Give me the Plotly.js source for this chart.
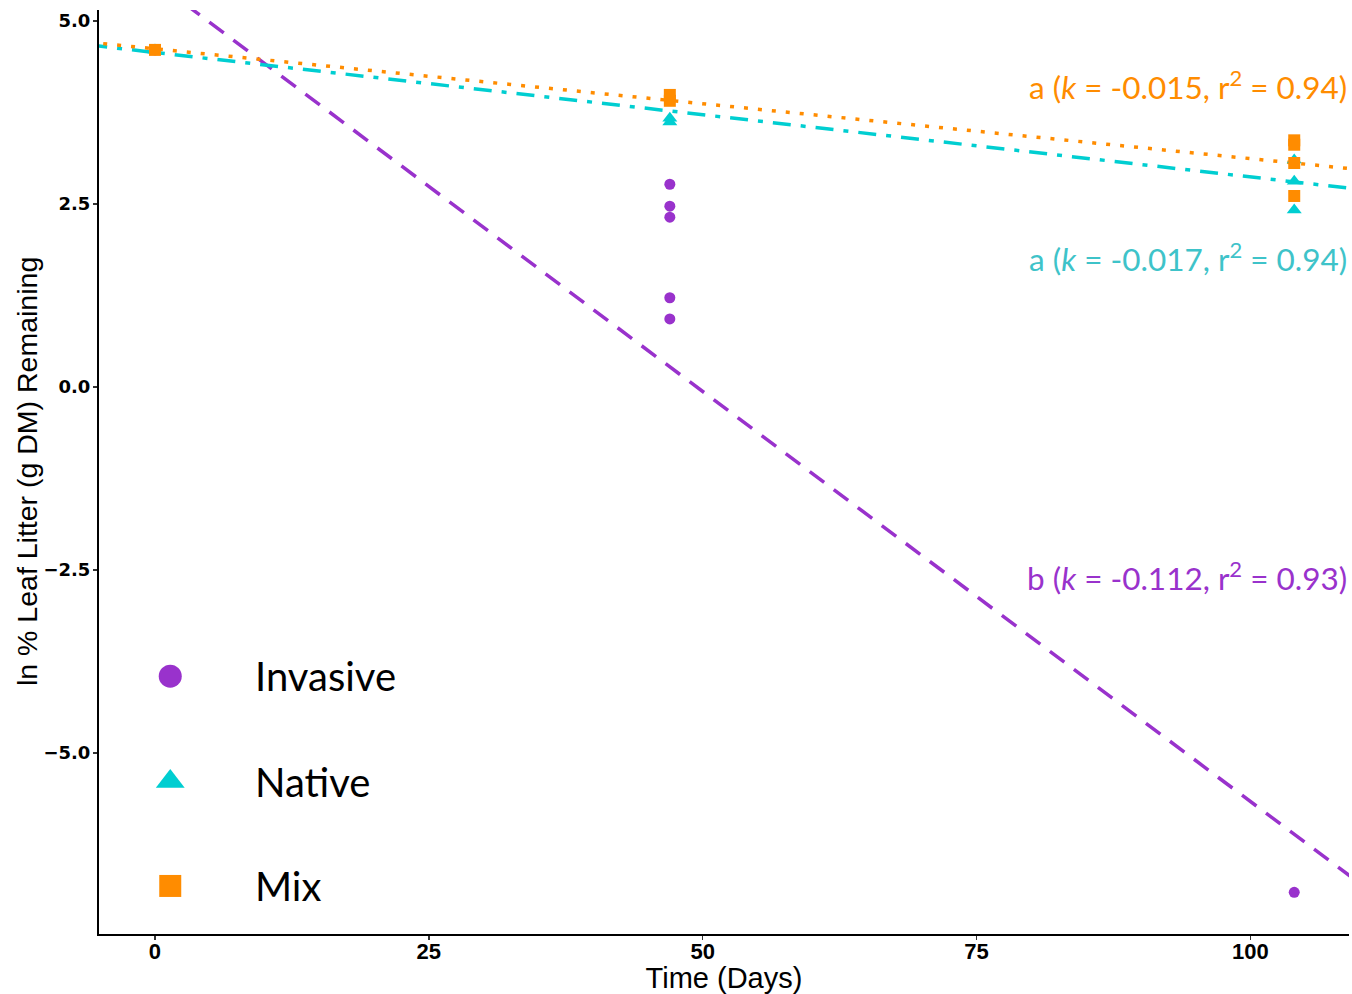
<!DOCTYPE html>
<html><head><meta charset="utf-8">
<script src="https://cdn.plot.ly/plotly-3.0.1.min.js"></script>
<style>body{margin:0;background:#fff}#chart{width:1352px;height:994px}</style>
</head><body><div id="chart"></div>
<script>
// Observed data (ln % leaf litter remaining)
const invasiveDays = [0, 47, 47, 47, 47, 47, 104];
const invasiveVals = [4.605, 2.77, 2.47, 2.32, 1.22, 0.93, -6.90];
const nativeDays = [0, 47, 47, 104, 104, 104];
const nativeVals = [4.605, 3.67, 3.62, 3.10, 2.81, 2.42];
const mixDays = [0, 47, 47, 104, 104, 104, 104];
const mixVals = [4.605, 3.99, 3.91, 3.37, 3.31, 3.06, 2.61];

// Fitted regression lines (intercept, slope k)
const groups = ["Invasive", "Native", "Mix"];
const intercepts = [5.54, 4.57, 4.62];
const slopes = [-0.112, -0.017, -0.015];
const fitLabels = [
  "b (<i>k</i> = -0.112, r<sup>2</sup> = 0.93)",
  "a (<i>k</i> = -0.017, r<sup>2</sup> = 0.94)",
  "a (<i>k</i> = -0.015, r<sup>2</sup> = 0.94)"
];
const labelY = [-2.58, 1.78, 4.12];
const yTitle = "ln % Leaf Litter (g DM) Remaining";
const xTitle = "Time (Days)";

const colors = ["#9932CC", "#00CED1", "#FF8C00"];
const textColors = ["#9932CC", "#3EC3C9", "#FF8C00"];
const symbols = ["circle", "triangle-up", "square"];
const dashes = ["18px,12px", "18px,10px,5px,10px", "4px,10px"];

const xRange = [-5.11, 109.0];
const yRange = [-7.47, 5.15];
const fitX = [-6, 110];

const traces = [];
groups.forEach((g, i) => {
  traces.push({
    x: fitX, y: fitX.map(d => intercepts[i] + slopes[i] * d),
    mode: "lines", line: {color: colors[i], width: 3.5, dash: dashes[i]},
    showlegend: false, hoverinfo: "skip"
  });
});
const ptsX = [invasiveDays, nativeDays, mixDays];
const ptsY = [invasiveVals, nativeVals, mixVals];
const sizes = [11, 13, 12];
groups.forEach((g, i) => {
  traces.push({
    x: ptsX[i], y: ptsY[i], mode: "markers", name: g,
    marker: {color: colors[i], symbol: symbols[i], size: sizes[i]},
    showlegend: false
  });
});
// custom legend on overlay axes
const legY = [0.279, 0.165, 0.052];
const legSizes = [23, 25, 22];
groups.forEach((g, i) => {
  traces.push({
    x: [0.057], y: [legY[i]], xaxis: "x2", yaxis: "y2", mode: "markers",
    marker: {color: colors[i], symbol: symbols[i], size: legSizes[i]},
    showlegend: false, hoverinfo: "skip"
  });
});

const annotations = [];
groups.forEach((g, i) => {
  annotations.push({
    x: 1, xref: "paper", xanchor: "right", y: labelY[i], yref: "y", yanchor: "middle",
    text: fitLabels[i], showarrow: false,
    font: {family: "Lato, 'Open Sans', sans-serif", size: 31.5, color: textColors[i]}
  });
  annotations.push({
    x: 0.1235, xref: "paper", xanchor: "left", y: legY[i], yref: "paper", yanchor: "middle",
    text: g, showarrow: false,
    font: {family: "Lato, 'Open Sans', sans-serif", size: 40, color: "#000"}
  });
});
annotations.push({
  x: -0.0576, xref: "paper", xanchor: "center", y: 0.5, yref: "paper", yanchor: "middle",
  text: yTitle, textangle: -90, showarrow: false,
  font: {family: "'Liberation Sans', Arial", size: 28.5, color: "#000"}
});

const layout = {
  width: 1352, height: 994,
  margin: {l: 99, r: 3, t: 10, b: 60},
  paper_bgcolor: "#fff", plot_bgcolor: "#fff",
  showlegend: false,
  xaxis: {
    range: xRange, tickvals: [0, 25, 50, 75, 100], showgrid: false, zeroline: false,
    showline: true, linecolor: "#000", linewidth: 2,
    ticks: "outside", ticklen: 4, tickwidth: 1.5, tickcolor: "#333",
    ticklabelstandoff: -7,
    tickfont: {family: "'Liberation Sans Narrow', 'Liberation Sans', Arial", size: 22, color: "#000", weight: "bold"},
    title: {text: xTitle, font: {family: "'Liberation Sans', Arial", size: 29, color: "#000"}, standoff: 10}
  },
  yaxis: {
    range: yRange, tickvals: [5, 2.5, 0, -2.5, -5], tickformat: ".1f",
    showgrid: false, zeroline: false,
    showline: true, linecolor: "#000", linewidth: 2,
    ticks: "outside", ticklen: 4, tickwidth: 1.5, tickcolor: "#333",
    ticklabelstandoff: -1,
    tickfont: {family: "'DejaVu Sans', sans-serif", size: 18, color: "#000", weight: "bold"}
  },
  xaxis2: {overlaying: "x", range: [0, 1], visible: false, fixedrange: true},
  yaxis2: {overlaying: "y", range: [0, 1], visible: false, fixedrange: true},
  annotations: annotations
};
Plotly.newPlot("chart", traces, layout, {displayModeBar: false, staticPlot: true});
</script></body></html>
